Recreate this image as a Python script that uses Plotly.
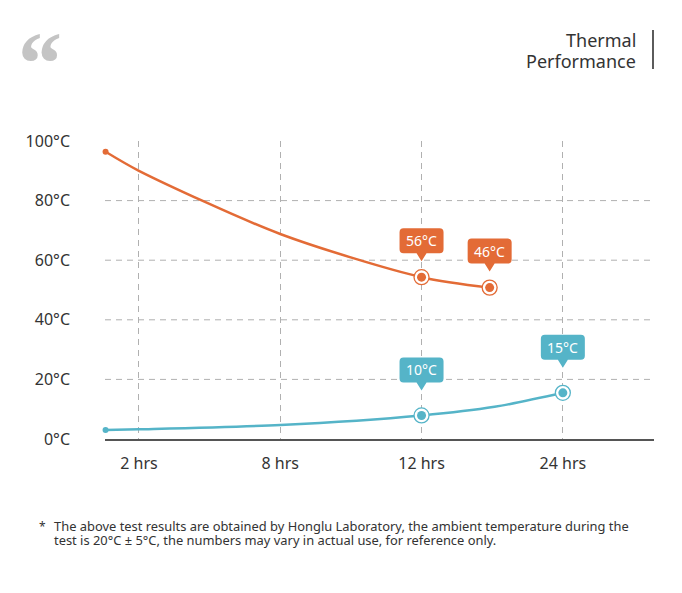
import plotly.graph_objects as go

orange = '#E36B36'
blue = '#55B4C8'
grid_grey = '#B0B0B0'
text_dark = '#333333'

# data (x in hour-category units, y in °C)
hours = ['2 hrs', '8 hrs', '12 hrs', '24 hrs']
hour_pos = [1, 2, 3, 4]
temp_ticks = [0, 20, 40, 60, 80, 100]
temp_text = ['0°C', '20°C', '40°C', '60°C', '80°C', '100°C']

hot_x = [0.764, 1, 2, 3, 3.482]
hot_y = [96.4, 90.0, 68.8, 54.3, 50.8]
cold_x = [0.764, 1, 2, 3, 3.517, 4]
cold_y = [3.0, 3.25, 4.7, 7.9, 10.8, 15.5]

# labelled points (index into the series above) and their callout texts
hot_marks = [3, 4]
hot_labels = ['56°C', '46°C']
cold_marks = [3, 5]
cold_labels = ['10°C', '15°C']

# page body has an 8px margin, so the figure is a bit smaller than the window
OFF = 8
W, H = 666, 577
L, R, T, B = 97, 20, 133, 146
PW, PH = W - L - R, H - T - B


def px_x(px):
    # window pixel -> paper fraction
    return (px - OFF - L) / PW


def px_y(py):
    return (H - B - (py - OFF)) / PH


def bubble(w, h, b, r=4, tip=8, half=5):
    # rounded box with a little pointer, in pixels, y up, anchored on the point
    x0, x1 = -w / 2, w / 2
    t = b + h
    return (f'M{x0 + r},{b} L{-half},{b} L0,{b - tip} L{half},{b} L{x1 - r},{b} '
            f'Q{x1},{b} {x1},{b + r} L{x1},{t - r} Q{x1},{t} {x1 - r},{t} '
            f'L{x0 + r},{t} Q{x0},{t} {x0},{t - r} L{x0},{b + r} Q{x0},{b} {x0 + r},{b} Z')


fig = go.Figure()

for xs, ys, col, marks in [(hot_x, hot_y, orange, hot_marks), (cold_x, cold_y, blue, cold_marks)]:
    fig.add_trace(go.Scatter(x=xs, y=ys, mode='lines', line=dict(color=col, width=2.5, shape='spline', smoothing=0.8),
                             cliponaxis=False, hoverinfo='skip'))
    fig.add_trace(go.Scatter(x=[xs[0]], y=[ys[0]], mode='markers', marker=dict(color=col, size=6),
                             cliponaxis=False, hoverinfo='skip'))
    fig.add_trace(go.Scatter(x=[xs[i] for i in marks], y=[ys[i] for i in marks], mode='markers',
                             marker=dict(color='white', size=15, line=dict(color=col, width=1.3)),
                             cliponaxis=False, hoverinfo='skip'))
    fig.add_trace(go.Scatter(x=[xs[i] for i in marks], y=[ys[i] for i in marks], mode='markers',
                             marker=dict(color=col, size=9), cliponaxis=False, hoverinfo='skip'))

shapes = []
annotations = []

# horizontal dashed grid (none at 0 and 100)
for v in temp_ticks[1:-1]:
    shapes.append(dict(type='line', xref='paper', yref='y', x0=0, x1=1, y0=v, y1=v, layer='below',
                       line=dict(color=grid_grey, width=1, dash='6px,5px')))

# callouts
for xs, ys, col, marks, labels, off in [(hot_x, hot_y, orange, hot_marks, hot_labels, 24),
                                         (cold_x, cold_y, blue, cold_marks, cold_labels, 33)]:
    for i, lab in zip(marks, labels):
        shapes.append(dict(type='path', xref='x', yref='y', xsizemode='pixel', ysizemode='pixel',
                           xanchor=xs[i], yanchor=ys[i], path=bubble(44, 25, off),
                           fillcolor=col, line=dict(width=0), layer='above'))
        annotations.append(dict(x=xs[i], y=ys[i], xref='x', yref='y', text=lab, showarrow=False,
                                yshift=off + 12.5, font=dict(family='Noto Sans', size=14, color='white')))

# title block top right
shapes.append(dict(type='line', xref='paper', yref='paper', x0=px_x(653), x1=px_x(653),
                   y0=px_y(30), y1=px_y(69), line=dict(color=text_dark, width=1.6)))
annotations.append(dict(xref='paper', yref='paper', x=px_x(638), y=px_y(40), text='Thermal',
                        xanchor='right', yanchor='middle', showarrow=False,
                        font=dict(family='Noto Sans', size=18, color=text_dark)))
annotations.append(dict(xref='paper', yref='paper', x=px_x(638), y=px_y(61), text='Performance',
                        xanchor='right', yanchor='middle', showarrow=False,
                        font=dict(family='Noto Sans', size=18, color=text_dark)))

# quote mark top left
annotations.append(dict(xref='paper', yref='paper', x=px_x(16), y=px_y(63), text='“',
                        xanchor='left', yanchor='middle', showarrow=False,
                        font=dict(family='Liberation Serif', size=88, color='#C4C4C4', weight='bold')))

# footnote
annotations.append(dict(xref='paper', yref='paper', x=px_x(37), y=px_y(526), text='*',
                        xanchor='left', yanchor='middle', showarrow=False,
                        font=dict(family='Noto Sans', size=12, color=text_dark)))
annotations.append(dict(xref='paper', yref='paper', x=px_x(52), y=px_y(526),
                        text='The above test results are obtained by Honglu Laboratory, the ambient temperature during the',
                        xanchor='left', yanchor='middle', showarrow=False,
                        font=dict(family='Noto Sans', size=12.9, color=text_dark)))
annotations.append(dict(xref='paper', yref='paper', x=px_x(52), y=px_y(540),
                        text='test is 20°C ± 5°C, the numbers may vary in actual use, for reference only.',
                        xanchor='left', yanchor='middle', showarrow=False,
                        font=dict(family='Noto Sans', size=12.9, color=text_dark)))

fig.update_layout(
    width=W, height=H,
    margin=dict(l=L, r=R, t=T, b=B),
    paper_bgcolor='white',
    plot_bgcolor='white',
    showlegend=False,
    font=dict(family='Noto Sans', color=text_dark),
    shapes=shapes,
    annotations=annotations,
)
fig.update_xaxes(range=[0.76, 4.645], tickvals=hour_pos, ticktext=hours, showgrid=True,
                 gridcolor=grid_grey, griddash='6px,5px', gridwidth=1, zeroline=False,
                 showline=True, linecolor='#555555', linewidth=1.5, ticks='',
                 tickfont=dict(size=16, color=text_dark), ticklabelstandoff=9)
fig.update_yaxes(range=[0, 100], tickvals=temp_ticks, ticktext=temp_text, showgrid=False,
                 zeroline=False, showline=False, ticks='',
                 tickfont=dict(size=16, color=text_dark), ticklabelstandoff=34)

fig.write_html("out.html")
